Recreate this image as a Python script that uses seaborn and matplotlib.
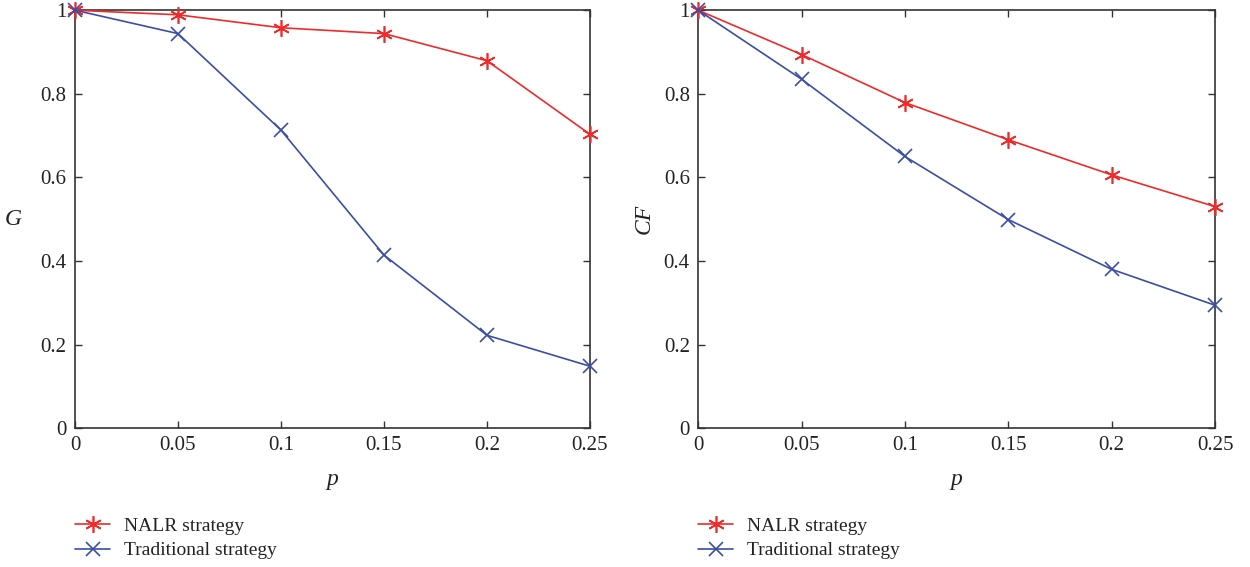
import matplotlib
matplotlib.use("Agg")
import matplotlib.pyplot as plt
import seaborn as sns
import pandas as pd
from matplotlib.lines import Line2D

sns.set_theme(style="white")
plt.rcParams["font.family"] = ["Liberation Serif", "DejaVu Serif"]
plt.rcParams["mathtext.fontset"] = "stix"

# Node fraction p and the two performance measures
p_values = [0, 0.05, 0.1, 0.15, 0.2, 0.25]
g_nalr = [1.0, 0.989, 0.958, 0.944, 0.879, 0.703]
g_traditional = [1.0, 0.944, 0.713, 0.414, 0.222, 0.148]
cf_nalr = [1.0, 0.894, 0.779, 0.690, 0.606, 0.530]
cf_traditional = [1.0, 0.835, 0.650, 0.499, 0.380, 0.294]

strategies = ["NALR strategy", "Traditional strategy"]
x_ticks = [0, 0.05, 0.1, 0.15, 0.2, 0.25]
x_tick_labels = ["0", "0.05", "0.1", "0.15", "0.2", "0.25"]
y_ticks = [0, 0.2, 0.4, 0.6, 0.8, 1.0]
y_tick_labels = ["0", "0.2", "0.4", "0.6", "0.8", "1"]

colors = {"NALR strategy": "#ee2a2a", "Traditional strategy": "#3a4ea6"}
star = (6, 2, 0)
markers = {"NALR strategy": star, "Traditional strategy": "x"}
sizes = {"NALR strategy": 12, "Traditional strategy": 10}
MEW = 1.2


def long_frame(nalr, trad):
    return pd.DataFrame({
        "p": p_values * 2,
        "value": nalr + trad,
        "strategy": [strategies[0]] * len(p_values) + [strategies[1]] * len(p_values),
    })


fig = plt.figure(figsize=(12.5, 5.67), dpi=100)
ax1 = fig.add_axes([0.060, 0.245, 0.412, 0.737])
ax2 = fig.add_axes([0.5585, 0.245, 0.4135, 0.737])

panels = [(ax1, g_nalr, g_traditional, "G", 0), (ax2, cf_nalr, cf_traditional, "CF", 90)]
for ax, nalr, trad, ylab, rot in panels:
    df = long_frame(nalr, trad)
    sns.lineplot(data=df, x="p", y="value", hue="strategy", style="strategy",
                 palette=colors, markers=markers, dashes=False, ax=ax,
                 linewidth=1.2, markersize=10, markeredgewidth=MEW,
                 legend=False, sort=False)
    for ln, s in zip(ax.lines, strategies):
        c = ln.get_color()
        ln.set_markeredgecolor(c)
        ln.set_markerfacecolor(c)
        ln.set_markersize(sizes[s])
        ln.set_clip_on(False)
        ln.set_zorder(3)
    ax.set_xlim(0, 0.25)
    ax.set_ylim(0, 1)
    ax.set_xticks(x_ticks)
    ax.set_xticklabels(x_tick_labels)
    ax.set_yticks(y_ticks)
    ax.set_yticklabels(y_tick_labels)
    ax.tick_params(direction="in", length=5, width=1, color="#333333",
                   labelsize=15, labelcolor="#222222", top=True, right=True,
                   bottom=True, left=True, pad=6)
    for sp in ax.spines.values():
        sp.set_visible(True)
        sp.set_color("#333333")
        sp.set_linewidth(1.2)
        sp.set_zorder(2)
    ax.set_xlabel("p", fontsize=17, style="italic", color="#222222", labelpad=10)
    ax.set_ylabel(ylab, fontsize=17, style="italic", color="#222222",
                  rotation=rot, labelpad=20 if rot == 0 else 14, va="center")

    handles = [Line2D([0], [0], color=colors[s], marker=markers[s], markersize=sizes[s],
                      markeredgewidth=MEW, markerfacecolor=colors[s],
                      markeredgecolor=colors[s], linewidth=1.2) for s in strategies]
    ax.legend(handles, strategies, loc="upper left", bbox_to_anchor=(0.0, -0.213),
              frameon=False, fontsize=14, handlelength=1.8, handletextpad=0.7,
              labelspacing=0.36, borderaxespad=0, borderpad=0,
              labelcolor="#222222")

fig.savefig("out.png", dpi=100, facecolor="white")
